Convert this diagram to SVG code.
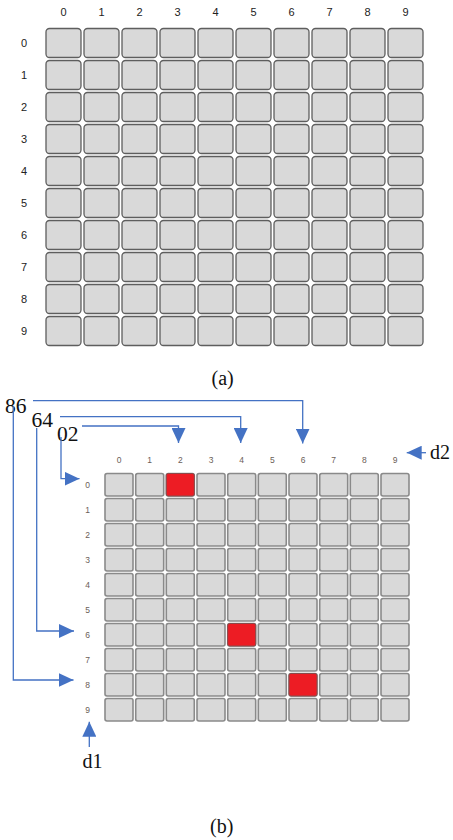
<svg xmlns="http://www.w3.org/2000/svg" xmlns:xlink="http://www.w3.org/1999/xlink" width="453" height="840" viewBox="0 0 453 840">
<style>
.lblA{font-family:"Liberation Sans",Arial,sans-serif;font-size:11px;fill:#222;text-anchor:middle}
.lblB{font-family:"Liberation Sans",Arial,sans-serif;font-size:8.5px;fill:#6b6058;text-anchor:middle}
.cap{font-family:"Liberation Serif","Times New Roman",serif;font-size:20px;fill:#111}
.num{font-family:"Liberation Serif","Times New Roman",serif;font-size:21.5px;fill:#111}
.cellA{fill:#d9d9d9;stroke:#5e5e5e;stroke-width:1.3}
.cellB{fill:#d9d9d9;stroke:#8a8a8a;stroke-width:1.6}
.hit{fill:#ed1c24;stroke:#8a4a4a;stroke-width:1}
.link{fill:none;stroke:#4472c4;stroke-width:1.3}
</style>
<defs>
<rect id="ca" class="cellA" width="35" height="29" rx="3.5"/>
<rect id="cb" class="cellB" width="28" height="22.5" rx="2"/>
<marker id="head" markerUnits="userSpaceOnUse" markerWidth="15" markerHeight="14" viewBox="0 0 15 14" refX="15" refY="7" orient="auto">
<path d="M0,0 L15,7 L0,14 z" fill="#4472c4"/>
</marker>
</defs>

<!-- (a) empty 10x10 grid -->
<g id="gridA">
<g id="gridA-cols">
<text class="lblA" x="63.5" y="16">0</text><text class="lblA" x="101.5" y="16">1</text><text class="lblA" x="139.5" y="16">2</text><text class="lblA" x="177.5" y="16">3</text><text class="lblA" x="215.5" y="16">4</text><text class="lblA" x="253.5" y="16">5</text><text class="lblA" x="291.5" y="16">6</text><text class="lblA" x="329.5" y="16">7</text><text class="lblA" x="367.5" y="16">8</text><text class="lblA" x="405.5" y="16">9</text>
</g>
<g id="gridA-rows">
<text class="lblA" x="24" y="47">0</text><text class="lblA" x="24" y="79">1</text><text class="lblA" x="24" y="111">2</text><text class="lblA" x="24" y="143">3</text><text class="lblA" x="24" y="175">4</text><text class="lblA" x="24" y="207">5</text><text class="lblA" x="24" y="239">6</text><text class="lblA" x="24" y="271">7</text><text class="lblA" x="24" y="303">8</text><text class="lblA" x="24" y="335">9</text>
</g>
<g id="gridA-cells">
<g id="a-r0"><use href="#ca" x="46" y="28.5"/><use href="#ca" x="84" y="28.5"/><use href="#ca" x="122" y="28.5"/><use href="#ca" x="160" y="28.5"/><use href="#ca" x="198" y="28.5"/><use href="#ca" x="236" y="28.5"/><use href="#ca" x="274" y="28.5"/><use href="#ca" x="312" y="28.5"/><use href="#ca" x="350" y="28.5"/><use href="#ca" x="388" y="28.5"/></g>
<g id="a-r1"><use href="#ca" x="46" y="60.5"/><use href="#ca" x="84" y="60.5"/><use href="#ca" x="122" y="60.5"/><use href="#ca" x="160" y="60.5"/><use href="#ca" x="198" y="60.5"/><use href="#ca" x="236" y="60.5"/><use href="#ca" x="274" y="60.5"/><use href="#ca" x="312" y="60.5"/><use href="#ca" x="350" y="60.5"/><use href="#ca" x="388" y="60.5"/></g>
<g id="a-r2"><use href="#ca" x="46" y="92.5"/><use href="#ca" x="84" y="92.5"/><use href="#ca" x="122" y="92.5"/><use href="#ca" x="160" y="92.5"/><use href="#ca" x="198" y="92.5"/><use href="#ca" x="236" y="92.5"/><use href="#ca" x="274" y="92.5"/><use href="#ca" x="312" y="92.5"/><use href="#ca" x="350" y="92.5"/><use href="#ca" x="388" y="92.5"/></g>
<g id="a-r3"><use href="#ca" x="46" y="124.5"/><use href="#ca" x="84" y="124.5"/><use href="#ca" x="122" y="124.5"/><use href="#ca" x="160" y="124.5"/><use href="#ca" x="198" y="124.5"/><use href="#ca" x="236" y="124.5"/><use href="#ca" x="274" y="124.5"/><use href="#ca" x="312" y="124.5"/><use href="#ca" x="350" y="124.5"/><use href="#ca" x="388" y="124.5"/></g>
<g id="a-r4"><use href="#ca" x="46" y="156.5"/><use href="#ca" x="84" y="156.5"/><use href="#ca" x="122" y="156.5"/><use href="#ca" x="160" y="156.5"/><use href="#ca" x="198" y="156.5"/><use href="#ca" x="236" y="156.5"/><use href="#ca" x="274" y="156.5"/><use href="#ca" x="312" y="156.5"/><use href="#ca" x="350" y="156.5"/><use href="#ca" x="388" y="156.5"/></g>
<g id="a-r5"><use href="#ca" x="46" y="188.5"/><use href="#ca" x="84" y="188.5"/><use href="#ca" x="122" y="188.5"/><use href="#ca" x="160" y="188.5"/><use href="#ca" x="198" y="188.5"/><use href="#ca" x="236" y="188.5"/><use href="#ca" x="274" y="188.5"/><use href="#ca" x="312" y="188.5"/><use href="#ca" x="350" y="188.5"/><use href="#ca" x="388" y="188.5"/></g>
<g id="a-r6"><use href="#ca" x="46" y="220.5"/><use href="#ca" x="84" y="220.5"/><use href="#ca" x="122" y="220.5"/><use href="#ca" x="160" y="220.5"/><use href="#ca" x="198" y="220.5"/><use href="#ca" x="236" y="220.5"/><use href="#ca" x="274" y="220.5"/><use href="#ca" x="312" y="220.5"/><use href="#ca" x="350" y="220.5"/><use href="#ca" x="388" y="220.5"/></g>
<g id="a-r7"><use href="#ca" x="46" y="252.5"/><use href="#ca" x="84" y="252.5"/><use href="#ca" x="122" y="252.5"/><use href="#ca" x="160" y="252.5"/><use href="#ca" x="198" y="252.5"/><use href="#ca" x="236" y="252.5"/><use href="#ca" x="274" y="252.5"/><use href="#ca" x="312" y="252.5"/><use href="#ca" x="350" y="252.5"/><use href="#ca" x="388" y="252.5"/></g>
<g id="a-r8"><use href="#ca" x="46" y="284.5"/><use href="#ca" x="84" y="284.5"/><use href="#ca" x="122" y="284.5"/><use href="#ca" x="160" y="284.5"/><use href="#ca" x="198" y="284.5"/><use href="#ca" x="236" y="284.5"/><use href="#ca" x="274" y="284.5"/><use href="#ca" x="312" y="284.5"/><use href="#ca" x="350" y="284.5"/><use href="#ca" x="388" y="284.5"/></g>
<g id="a-r9"><use href="#ca" x="46" y="316.5"/><use href="#ca" x="84" y="316.5"/><use href="#ca" x="122" y="316.5"/><use href="#ca" x="160" y="316.5"/><use href="#ca" x="198" y="316.5"/><use href="#ca" x="236" y="316.5"/><use href="#ca" x="274" y="316.5"/><use href="#ca" x="312" y="316.5"/><use href="#ca" x="350" y="316.5"/><use href="#ca" x="388" y="316.5"/></g>
</g>
</g>
<text id="capA" class="cap" x="211.5" y="385">(a)</text>

<!-- (b) grid with three marked cells -->
<g id="gridB">
<g id="gridB-cols">
<text class="lblB" x="119" y="463">0</text><text class="lblB" x="149.7" y="463">1</text><text class="lblB" x="180.3" y="463">2</text><text class="lblB" x="211" y="463">3</text><text class="lblB" x="241.7" y="463">4</text><text class="lblB" x="272.3" y="463">5</text><text class="lblB" x="303" y="463">6</text><text class="lblB" x="333.7" y="463">7</text><text class="lblB" x="364.3" y="463">8</text><text class="lblB" x="395" y="463">9</text>
</g>
<g id="gridB-rows">
<text class="lblB" x="87.5" y="487.8">0</text><text class="lblB" x="87.5" y="512.8">1</text><text class="lblB" x="87.5" y="537.8">2</text><text class="lblB" x="87.5" y="562.8">3</text><text class="lblB" x="87.5" y="587.8">4</text><text class="lblB" x="87.5" y="612.8">5</text><text class="lblB" x="87.5" y="637.8">6</text><text class="lblB" x="87.5" y="662.8">7</text><text class="lblB" x="87.5" y="687.8">8</text><text class="lblB" x="87.5" y="712.8">9</text>
</g>
<g id="gridB-cells">
<g id="b-r0"><use href="#cb" x="105" y="473.5"/><use href="#cb" x="135.7" y="473.5"/><use href="#cb" x="166.3" y="473.5"/><use href="#cb" x="197" y="473.5"/><use href="#cb" x="227.7" y="473.5"/><use href="#cb" x="258.3" y="473.5"/><use href="#cb" x="289" y="473.5"/><use href="#cb" x="319.7" y="473.5"/><use href="#cb" x="350.3" y="473.5"/><use href="#cb" x="381" y="473.5"/></g>
<g id="b-r1"><use href="#cb" x="105" y="498.5"/><use href="#cb" x="135.7" y="498.5"/><use href="#cb" x="166.3" y="498.5"/><use href="#cb" x="197" y="498.5"/><use href="#cb" x="227.7" y="498.5"/><use href="#cb" x="258.3" y="498.5"/><use href="#cb" x="289" y="498.5"/><use href="#cb" x="319.7" y="498.5"/><use href="#cb" x="350.3" y="498.5"/><use href="#cb" x="381" y="498.5"/></g>
<g id="b-r2"><use href="#cb" x="105" y="523.5"/><use href="#cb" x="135.7" y="523.5"/><use href="#cb" x="166.3" y="523.5"/><use href="#cb" x="197" y="523.5"/><use href="#cb" x="227.7" y="523.5"/><use href="#cb" x="258.3" y="523.5"/><use href="#cb" x="289" y="523.5"/><use href="#cb" x="319.7" y="523.5"/><use href="#cb" x="350.3" y="523.5"/><use href="#cb" x="381" y="523.5"/></g>
<g id="b-r3"><use href="#cb" x="105" y="548.5"/><use href="#cb" x="135.7" y="548.5"/><use href="#cb" x="166.3" y="548.5"/><use href="#cb" x="197" y="548.5"/><use href="#cb" x="227.7" y="548.5"/><use href="#cb" x="258.3" y="548.5"/><use href="#cb" x="289" y="548.5"/><use href="#cb" x="319.7" y="548.5"/><use href="#cb" x="350.3" y="548.5"/><use href="#cb" x="381" y="548.5"/></g>
<g id="b-r4"><use href="#cb" x="105" y="573.5"/><use href="#cb" x="135.7" y="573.5"/><use href="#cb" x="166.3" y="573.5"/><use href="#cb" x="197" y="573.5"/><use href="#cb" x="227.7" y="573.5"/><use href="#cb" x="258.3" y="573.5"/><use href="#cb" x="289" y="573.5"/><use href="#cb" x="319.7" y="573.5"/><use href="#cb" x="350.3" y="573.5"/><use href="#cb" x="381" y="573.5"/></g>
<g id="b-r5"><use href="#cb" x="105" y="598.5"/><use href="#cb" x="135.7" y="598.5"/><use href="#cb" x="166.3" y="598.5"/><use href="#cb" x="197" y="598.5"/><use href="#cb" x="227.7" y="598.5"/><use href="#cb" x="258.3" y="598.5"/><use href="#cb" x="289" y="598.5"/><use href="#cb" x="319.7" y="598.5"/><use href="#cb" x="350.3" y="598.5"/><use href="#cb" x="381" y="598.5"/></g>
<g id="b-r6"><use href="#cb" x="105" y="623.5"/><use href="#cb" x="135.7" y="623.5"/><use href="#cb" x="166.3" y="623.5"/><use href="#cb" x="197" y="623.5"/><use href="#cb" x="227.7" y="623.5"/><use href="#cb" x="258.3" y="623.5"/><use href="#cb" x="289" y="623.5"/><use href="#cb" x="319.7" y="623.5"/><use href="#cb" x="350.3" y="623.5"/><use href="#cb" x="381" y="623.5"/></g>
<g id="b-r7"><use href="#cb" x="105" y="648.5"/><use href="#cb" x="135.7" y="648.5"/><use href="#cb" x="166.3" y="648.5"/><use href="#cb" x="197" y="648.5"/><use href="#cb" x="227.7" y="648.5"/><use href="#cb" x="258.3" y="648.5"/><use href="#cb" x="289" y="648.5"/><use href="#cb" x="319.7" y="648.5"/><use href="#cb" x="350.3" y="648.5"/><use href="#cb" x="381" y="648.5"/></g>
<g id="b-r8"><use href="#cb" x="105" y="673.5"/><use href="#cb" x="135.7" y="673.5"/><use href="#cb" x="166.3" y="673.5"/><use href="#cb" x="197" y="673.5"/><use href="#cb" x="227.7" y="673.5"/><use href="#cb" x="258.3" y="673.5"/><use href="#cb" x="289" y="673.5"/><use href="#cb" x="319.7" y="673.5"/><use href="#cb" x="350.3" y="673.5"/><use href="#cb" x="381" y="673.5"/></g>
<g id="b-r9"><use href="#cb" x="105" y="698.5"/><use href="#cb" x="135.7" y="698.5"/><use href="#cb" x="166.3" y="698.5"/><use href="#cb" x="197" y="698.5"/><use href="#cb" x="227.7" y="698.5"/><use href="#cb" x="258.3" y="698.5"/><use href="#cb" x="289" y="698.5"/><use href="#cb" x="319.7" y="698.5"/><use href="#cb" x="350.3" y="698.5"/><use href="#cb" x="381" y="698.5"/></g>
</g>
<g id="marked">
<rect id="m02" class="hit" x="166.3" y="473.5" width="28" height="22.5" rx="2"/>
<rect id="m64" class="hit" x="227.7" y="623.5" width="28" height="22.5" rx="2"/>
<rect id="m86" class="hit" x="289" y="673.5" width="28" height="22.5" rx="2"/>
</g>
</g>

<!-- pair labels -->
<g id="pair86"><text class="num" x="5" y="413">86</text></g>
<g id="pair64"><text class="num" x="31.5" y="426.5">64</text></g>
<g id="pair02"><text class="num" x="57" y="441">02</text></g>
<g id="axisD2"><text class="cap" x="430" y="458.5">d2</text></g>
<g id="axisD1"><text class="cap" x="82.5" y="768">d1</text></g>

<!-- connectors from each pair to its row and column -->
<g id="connectors">
<path class="link" d="M33,400.7 H302.7 V443.5" marker-end="url(#head)"/>
<path class="link" d="M13.3,406 V680 H73.5" marker-end="url(#head)"/>
<path class="link" d="M60,416.7 H240.7 V443" marker-end="url(#head)"/>
<path class="link" d="M36.7,428 V631 H74" marker-end="url(#head)"/>
<path class="link" d="M82,426 H178.5 V443" marker-end="url(#head)"/>
<path class="link" d="M61,437 V478.7 H79.5" marker-end="url(#head)"/>
<path class="link" d="M426,452.7 H406.7" marker-end="url(#head)"/>
<path class="link" d="M89.3,747 V721.7" marker-end="url(#head)"/>
</g>

<text id="capB" class="cap" x="210" y="833">(b)</text>
</svg>
